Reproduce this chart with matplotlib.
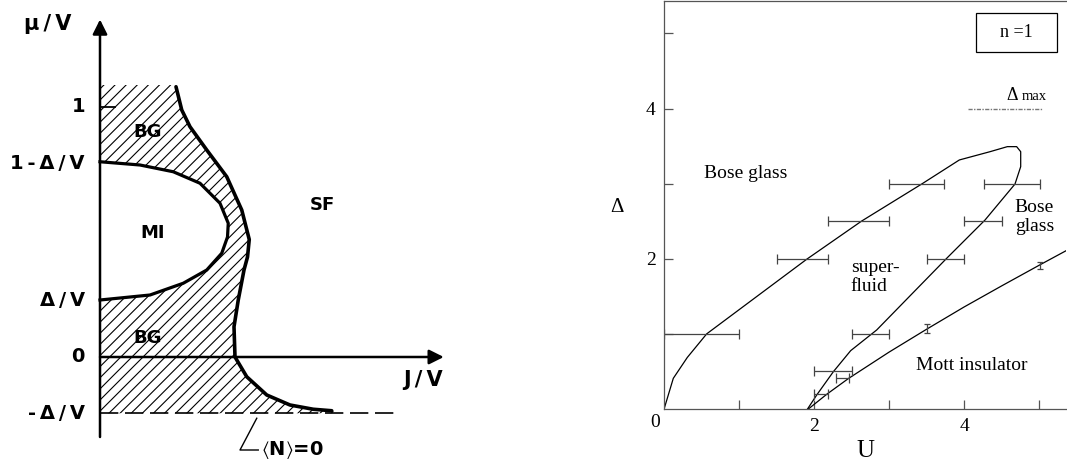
import matplotlib
matplotlib.use("Agg")
import matplotlib.pyplot as plt
from matplotlib.patches import Rectangle

plt.rcParams["hatch.linewidth"] = 0.8
plt.rcParams["mathtext.fontset"] = "stix"

# ---- left panel: schematic phase diagram (J/V, mu/V) ----
d_over_v = 0.225
mu_levels = [1.0, 1 - d_over_v, d_over_v, 0.0, -d_over_v]
mu_labels = ["1", "1-Δ/V", "Δ/V", "0", "-Δ/V"]
mu_top = 1.088

# thick outer boundary of the Bose-glass region
bound_j = [0.304, 0.327, 0.36, 0.427, 0.507, 0.567, 0.597, 0.59, 0.576,
           0.553, 0.536, 0.54, 0.587, 0.667, 0.76, 0.853, 0.927]
bound_mu = [1.081, 0.988, 0.921, 0.828, 0.721, 0.588, 0.47, 0.40, 0.348,
            0.228, 0.121, 0.0, -0.079, -0.152, -0.192, -0.209, -0.215]

# Mott-insulator lobe
lobe_j = [0, 0.16, 0.293, 0.4, 0.48, 0.513, 0.51, 0.487, 0.427, 0.333, 0.2, 0]
lobe_mu = [0.781, 0.768, 0.741, 0.695, 0.615, 0.535, 0.48, 0.415, 0.348,
           0.295, 0.248, 0.228]

# ---- right panel: U vs Delta, n = 1 ----
outer_u = [0, 0.124, 0.311, 0.569, 1.902, 2.636, 3.436, 3.938, 4.347, 4.578,
           4.702, 4.756, 4.756, 4.68, 4.28, 3.769, 2.836, 2.489, 2.258, 2.036, 1.911]
outer_d = [0, 0.412, 0.69, 1.003, 1.995, 2.504, 2.996, 3.316, 3.426, 3.493,
           3.493, 3.426, 3.227, 2.996, 2.517, 2.008, 1.055, 0.78, 0.5, 0.19, 0]

mott_u = [1.92, 2.17, 2.46, 3.0, 3.5, 4.0, 4.5, 5.01, 5.4]
mott_d = [0, 0.2, 0.41, 0.76, 1.064, 1.36, 1.64, 1.92, 2.13]

err_delta = [0.2, 0.41, 0.51, 1.0, 1.0, 2.0, 2.0, 2.5, 2.5, 3.0, 3.0]
err_lo = [2.0, 2.29, 2.0, 0.0, 2.5, 1.51, 3.5, 2.19, 4.0, 3.0, 4.26]
err_hi = [2.19, 2.47, 2.5, 1.0, 3.0, 2.19, 4.0, 3.0, 4.51, 3.73, 5.01]

verr_u = [3.51, 5.01]
verr_d = [1.08, 1.91]
verr_size = [0.06, 0.05]

delta_max = 4.0

fig = plt.figure(figsize=(10.67, 4.67), dpi=100)

# %% left panel
axl = fig.add_axes([0, 0, 450 / 1067, 1])
axl.set_xlim(-0.4, 1.4)
axl.set_ylim(-0.44, 1.428)
axl.axis("off")

hx = [0, bound_j[0]] + bound_j + [0.95, 0]
hy = [mu_top, mu_top] + bound_mu + [-d_over_v, -d_over_v]
axl.fill(hx, hy, facecolor="none", edgecolor="k", linewidth=0, hatch="///")
axl.fill(lobe_j, lobe_mu, facecolor="white", edgecolor="none")
axl.plot(bound_j, bound_mu, color="k", lw=2.6, solid_capstyle="round",
         solid_joinstyle="round")
axl.plot(lobe_j, lobe_mu, color="k", lw=2.3, solid_joinstyle="round")

# axes with arrows
axl.annotate("", xy=(0, 1.35), xytext=(0, -0.32),
             arrowprops=dict(arrowstyle="-|>", lw=1.8, color="k",
                             mutation_scale=22, shrinkA=0, shrinkB=0))
axl.annotate("", xy=(1.375, 0), xytext=(0, 0),
             arrowprops=dict(arrowstyle="-|>", lw=1.8, color="k",
                             mutation_scale=22, shrinkA=0, shrinkB=0))
axl.plot([0, 0.06], [1, 1], color="k", lw=1.3)
axl.plot([0, 1.18], [-d_over_v, -d_over_v], color="k", lw=1.2,
         dashes=(11, 4))

lfont = dict(family="DejaVu Sans", fontweight="bold", color="k")
sp = "\u2009"
for m, lab in zip(mu_levels, mu_labels):
    axl.text(-0.06, m, sp.join(lab), ha="right", va="center", fontsize=14,
             **lfont)
axl.text(-0.21, 1.33, sp.join("μ/V"), ha="center", va="center", fontsize=15,
         **lfont)
axl.text(1.29, -0.09, sp.join("J/V"), ha="center", va="center", fontsize=15,
         **lfont)
axl.text(0.19, 0.9, "BG", ha="center", va="center", fontsize=13, **lfont)
axl.text(0.19, 0.075, "BG", ha="center", va="center", fontsize=13, **lfont)
axl.text(0.21, 0.495, "MI", ha="center", va="center", fontsize=13, **lfont)
axl.text(0.89, 0.61, "SF", ha="center", va="center", fontsize=13, **lfont)
axl.plot([0.627, 0.56, 0.633], [-0.245, -0.372, -0.372], color="k", lw=1.0)
axl.text(0.645, -0.372, r"$\langle$N$\rangle$=0", ha="left", va="center",
         fontsize=14, **lfont)

# %% right panel
axr = fig.add_axes([664 / 1067, 57.7 / 467, 402 / 1067, 408.3 / 467])
axr.set_xlim(0, 5.36)
axr.set_ylim(0, 5.43)
gray = "#555555"
for side in ["left", "bottom", "top"]:
    axr.spines[side].set_color(gray)
    axr.spines[side].set_linewidth(0.9)
axr.spines["right"].set_visible(False)
axr.set_xticks([1, 2, 3, 4, 5])
axr.set_xticklabels(["", "2", "", "4", ""])
axr.set_yticks([1, 2, 3, 4, 5])
axr.set_yticklabels(["", "2", "", "4", ""])
axr.tick_params(direction="in", length=6.5, width=0.9, color=gray,
                labelsize=14, pad=6)
for lab in axr.get_xticklabels() + axr.get_yticklabels():
    lab.set_family("Liberation Serif")

axr.plot(outer_u, outer_d, color="k", lw=0.9)
axr.plot(mott_u, mott_d, color="k", lw=0.9)
err_c = [(lo + hi) / 2 for lo, hi in zip(err_lo, err_hi)]
err_w = [(hi - lo) / 2 for lo, hi in zip(err_lo, err_hi)]
axr.errorbar(err_c, err_delta, xerr=err_w, fmt="none", ecolor="#444444",
             elinewidth=0.9, capsize=3.5, capthick=0.9)
axr.errorbar(verr_u, verr_d, yerr=verr_size, fmt="none", ecolor="#444444",
             elinewidth=0.9, capsize=2.5, capthick=0.9)
axr.plot([4.05, 5.05], [delta_max, delta_max], color="#777777", lw=1.0,
         dashes=(3, 1, 1, 1))

sfont = dict(family="Liberation Serif", color="k")
axr.text(-0.12, -0.17, "0", ha="center", va="center", fontsize=14,
         clip_on=False, **sfont)
axr.set_xlabel("U", fontsize=18, labelpad=4, **sfont)
axr.set_ylabel("Δ", fontsize=15, rotation=0, va="center", ha="center", **sfont)
axr.yaxis.set_label_coords(-0.117, 0.495)
axr.text(4.57, 4.11, "Δ", fontsize=13, ha="left", va="baseline", **sfont)
axr.text(4.77, 4.11, "max", fontsize=10.5, ha="left", va="baseline", **sfont)
axr.add_patch(Rectangle((4.16, 4.75), 1.08, 0.52, facecolor="none",
                        edgecolor="k", lw=0.9))
axr.text(4.7, 5.01, "n =1", fontsize=13, ha="center", va="center", **sfont)
axr.text(1.09, 3.14, "Bose glass", fontsize=14, ha="center", va="center", **sfont)
axr.text(4.94, 2.56, "Bose\nglass", fontsize=14, ha="center", va="center",
         linespacing=1.2, **sfont)
axr.text(2.49, 1.76, "super-\nfluid", fontsize=14, ha="left", va="center",
         linespacing=1.15, **sfont)
axr.text(4.11, 0.58, "Mott insulator", fontsize=14, ha="center", va="center",
         **sfont)

fig.savefig("out.png", dpi=100)
